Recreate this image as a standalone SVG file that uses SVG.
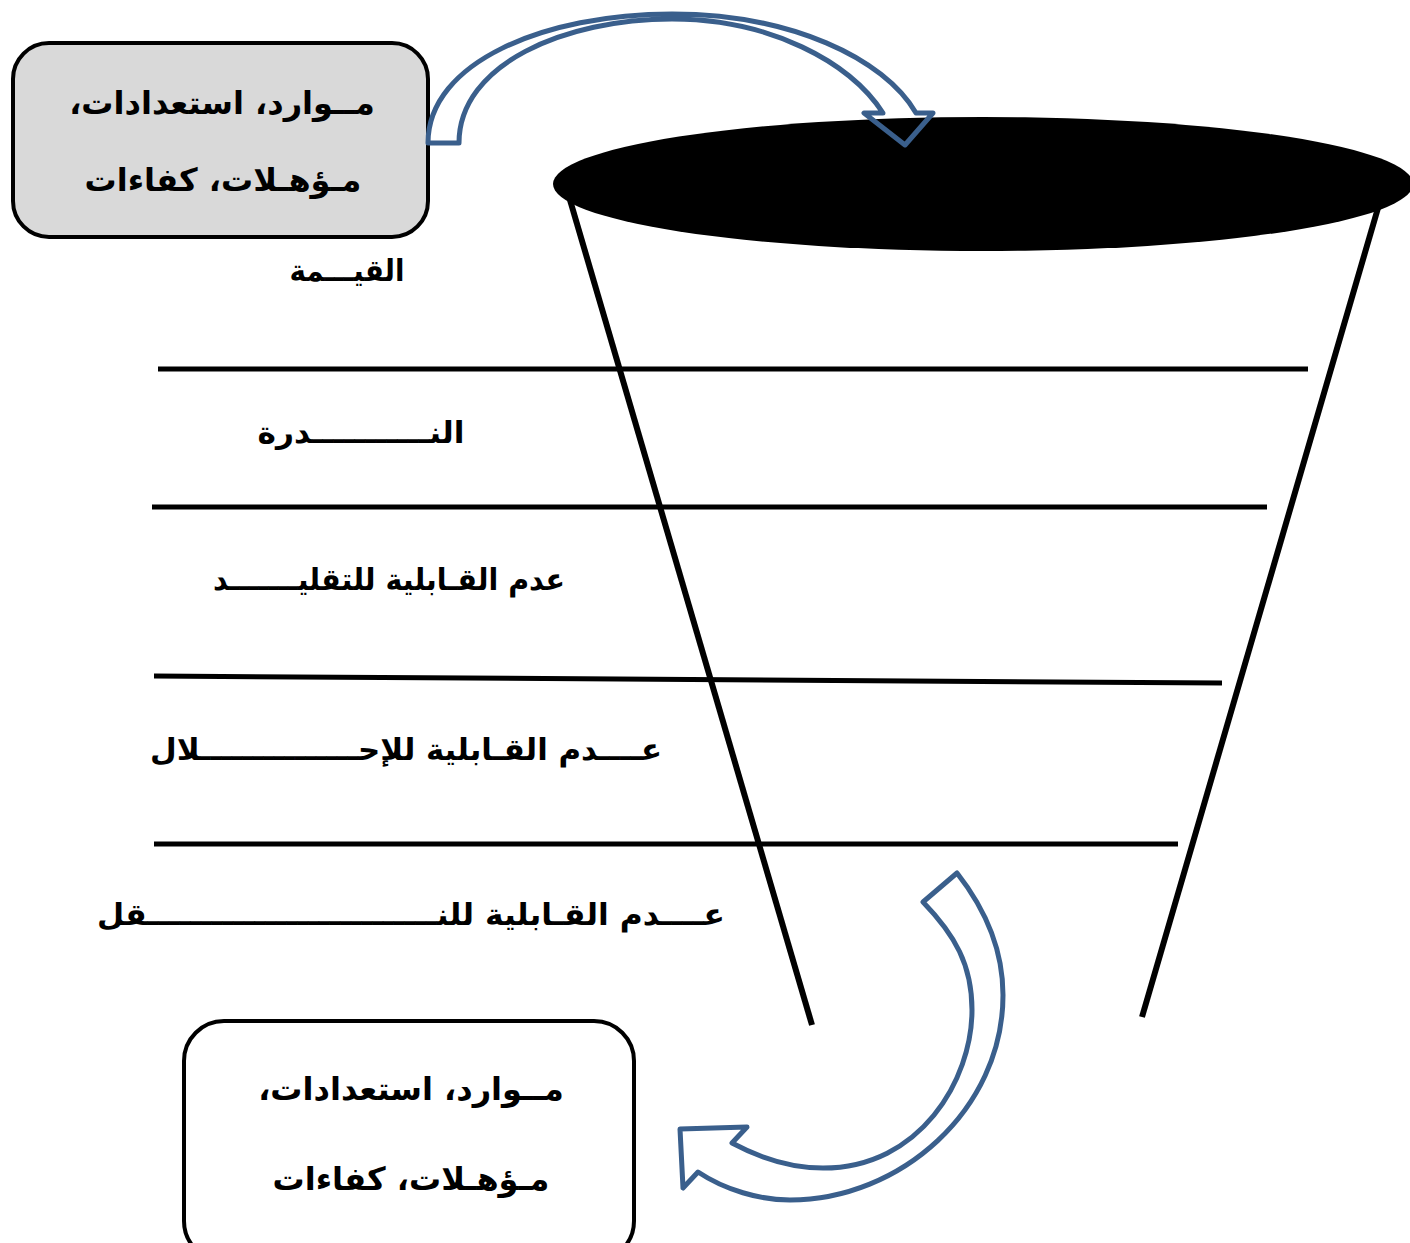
<svg xmlns="http://www.w3.org/2000/svg" width="1410" height="1243" viewBox="0 0 1410 1243">
  <style>
    .lbl { font-family: "DejaVu Sans", "Noto Sans", sans-serif; font-weight: bold; font-size: 30px; fill: #000; direction: rtl; text-anchor: middle; }
    .box-txt { font-family: "DejaVu Sans", "Noto Sans", sans-serif; font-weight: bold; font-size: 32px; fill: #000; direction: rtl; text-anchor: middle; }
    .rule { stroke: #000; stroke-width: 5; fill: none; }
    .wall { stroke: #000; stroke-width: 6; fill: none; }
    .flow { stroke: #3a5f8c; stroke-width: 5; fill: none; stroke-linejoin: round; }
    .box { stroke: #000; stroke-width: 4; }
  </style>

  <!-- funnel -->
  <g id="funnel">
    <ellipse cx="983" cy="184" rx="430" ry="67" fill="#000"/>
    <line class="wall" x1="570" y1="200" x2="812" y2="1025"/>
    <line class="wall" x1="1378" y1="208" x2="1142" y2="1017"/>
  </g>

  <!-- level separators -->
  <g id="levels">
    <line class="rule" x1="158" y1="369" x2="1308" y2="369"/>
    <line class="rule" x1="152" y1="507" x2="1267" y2="507"/>
    <line class="rule" x1="154" y1="676" x2="1222" y2="683"/>
    <line class="rule" x1="154" y1="844" x2="1178" y2="844"/>
  </g>

  <!-- level labels -->
  <g id="label-value"><text class="lbl" x="347" y="281" textLength="115" lengthAdjust="spacingAndGlyphs">القيـــمة</text></g>
  <g id="label-rarity"><text class="lbl" x="361" y="443" textLength="207" lengthAdjust="spacingAndGlyphs">النـــــــــــدرة</text></g>
  <g id="label-imitation"><text class="lbl" x="389" y="590" textLength="352" lengthAdjust="spacingAndGlyphs">عدم القـابلية للتقليـــــــد</text></g>
  <g id="label-substitution"><text class="lbl" x="406" y="760" textLength="512" lengthAdjust="spacingAndGlyphs">عــــدم القـابلية للإحـــــــــــــــلال</text></g>
  <g id="label-transfer"><text class="lbl" x="411" y="925" textLength="628" lengthAdjust="spacingAndGlyphs">عــــدم القـابلية للنـــــــــــــــــــــــــــقل</text></g>

  <!-- input resources box -->
  <g id="input-box">
    <rect class="box" x="13" y="43" width="415" height="194" rx="36" fill="#d9d9d9"/>
    <text class="box-txt" x="222" y="114">مــوارد، استعدادات،</text>
    <text class="box-txt" x="223" y="191">مـؤهـلات، كفاءات</text>
  </g>

  <!-- output resources box -->
  <g id="output-box">
    <rect class="box" x="184" y="1021" width="450" height="240" rx="40" fill="#fff"/>
    <text class="box-txt" x="411" y="1100">مــوارد، استعدادات،</text>
    <text class="box-txt" x="411" y="1190">مـؤهـلات، كفاءات</text>
  </g>

  <!-- curved flow arrows -->
  <g id="connectors">
    <path class="flow" d="M428,143 C428,62 545,14 672,14 C790,14 884,58 916,113 L933,113 L905,145 L864,113 L883,113 C850,62 770,19 672,19 C565,19 459,64 459,143 Z"/>
    <path class="flow" d="M957,873 C990,915 1003,955 1003,995 C1003,1110 900,1200 790,1200 C760,1200 725,1190 698,1172 L683,1188 L680,1129 L747,1127 L732,1143 C760,1158 790,1168 823,1168 C920,1168 972,1080 972,1010 C972,965 955,935 923,902 Z"/>
  </g>
</svg>
